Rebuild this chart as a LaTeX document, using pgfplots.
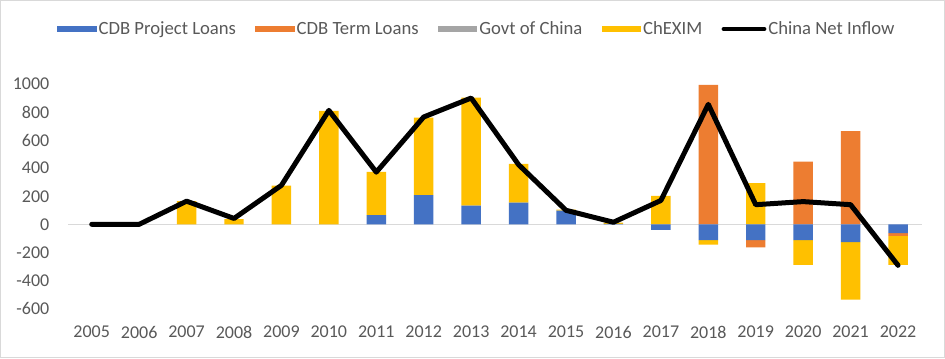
\documentclass[border=0pt]{standalone}
\usepackage{fontspec}
\setmainfont{Carlito}
\usepackage{pgfplots}
\pgfplotsset{compat=1.18}
\usepackage{pgfplotstable}
\definecolor{cdbblue}{HTML}{4472C4}
\definecolor{cdborange}{HTML}{ED7D31}
\definecolor{cdbgray}{HTML}{A5A5A5}
\definecolor{cdbyellow}{HTML}{FFC000}
\definecolor{txtgray}{HTML}{595959}
\definecolor{zerogray}{HTML}{D9D9D9}

\pgfplotstableread{
x blue orange gray yellow
0 0 0 0 0
1 0 0 0 0
2 0 0 0 165
3 0 0 0 38
4 0 0 0 275
5 0 0 0 808
6 66 0 0 307
7 209 0 0 551
8 133 0 0 770
9 154 0 0 276
10 97 0 0 7
11 4 0 0 8
12 0 0 0 202
13 0 993 0 0
14 0 0 0 294
15 0 446 0 0
16 0 665 0 0
17 0 0 0 0
}\postab

\pgfplotstableread{
x blue orange gray yellow
12 -40 0 0 0
13 -112 0 0 -33
14 -112 -52 0 0
15 -112 0 0 -176
16 -126 0 0 -411
17 -62 -21 0 -205
}\negtab

\pgfplotstableread{
x net
0 0
1 0
2 165
3 42
4 278
5 812
6 372
7 765
8 900
9 425
10 100
11 15
12 170
13 855
14 140
15 162
16 140
17 -292
}\nettab

\pgfplotsset{
  common/.style={
    at={(51pt,37.1pt)}, anchor=south west,
    scale only axis, width=640.3pt, height=168.4pt,
    xmin=-0.5, xmax=17.5, ymin=-600, ymax=1000,
    axis line style={draw=none},
    major tick length=0pt,
    clip=false,
  },
}

\begin{document}
\begin{tikzpicture}[x=0.75pt,y=0.75pt]
\useasboundingbox (0,0) rectangle (945,358);
\fill[white] (0,0) rectangle (945,358);
\draw[zerogray, line width=0.75pt] (0.5,0.5) rectangle (944.5,357.5);

\begin{axis}[common,
  ybar stacked, bar width=14.6pt,
  xtick={0,...,17},
  xticklabels={2005,2006,2007,2008,2009,2010,2011,2012,2013,2014,2015,2016,2017,2018,2019,2020,2021,2022},
  ytick={-600,-400,...,1000},
  extra y ticks={0}, extra y tick labels={},
  extra y tick style={grid=major, grid style={zerogray, line width=1.1pt}},
  /pgf/number format/assume math mode=true,
  /pgf/number format/1000 sep={},
  ticklabel style={font=\fontsize{13.5pt}{16pt}\selectfont, text=txtgray},
  yticklabel style={xshift=-10.5pt},
  xticklabel style={yshift=-9.6pt},
  legend style={at={(0.479,1.245)}, anchor=center, draw=none, fill=none,
    legend columns=5, font=\fontsize{14pt}{16pt}\selectfont, text=txtgray,
    nodes={inner sep=1.5pt},
    /tikz/every even column/.append style={column sep=13pt}},
  legend image code/.code={\fill[#1] (0pt,-2.6pt) rectangle (29.5pt,2.6pt);},
]
\addplot[fill=cdbblue, draw=none] table[x=x,y=blue]{\postab};
\addplot[fill=cdborange, draw=none] table[x=x,y=orange]{\postab};
\addplot[fill=cdbgray, draw=none] table[x=x,y=gray]{\postab};
\addplot[fill=cdbyellow, draw=none] table[x=x,y=yellow]{\postab};
\addlegendimage{legend image code/.code={\draw[black, line width=3.6pt, line cap=round] (2pt,0pt) -- (32pt,0pt);}}
\legend{CDB Project Loans, CDB Term Loans, Govt of China, ChEXIM, China Net Inflow}
\end{axis}

\begin{axis}[common,
  ybar stacked, bar width=14.6pt,
  xtick=\empty, ytick=\empty,
]
\addplot[fill=cdbblue, draw=none] table[x=x,y=blue]{\negtab};
\addplot[fill=cdborange, draw=none] table[x=x,y=orange]{\negtab};
\addplot[fill=cdbgray, draw=none] table[x=x,y=gray]{\negtab};
\addplot[fill=cdbyellow, draw=none] table[x=x,y=yellow]{\negtab};
\end{axis}

\begin{axis}[common, xtick=\empty, ytick=\empty]
\addplot[black, line width=3.75pt, line join=round, line cap=round, mark=none] table[x=x,y=net]{\nettab};
\end{axis}
\end{tikzpicture}
\end{document}
